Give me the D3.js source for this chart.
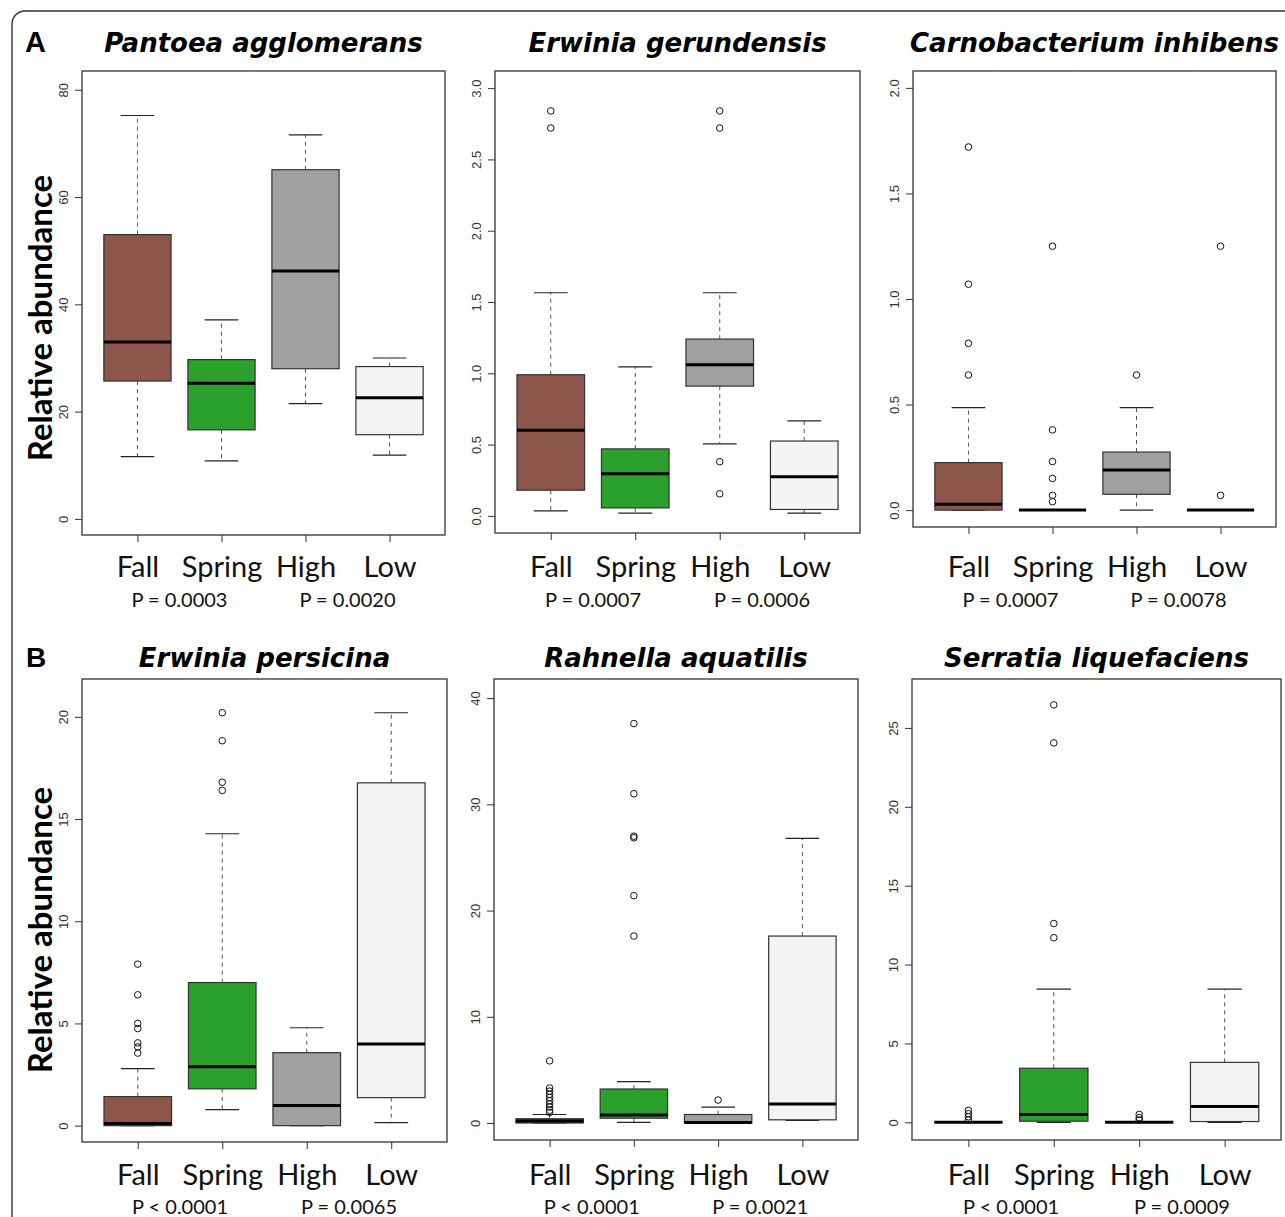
<!DOCTYPE html>
<html>
<head>
<meta charset="utf-8">
<script src="https://cdn.jsdelivr.net/npm/d3@7.9.0/dist/d3.min.js"></script>
<style>
  body { margin: 0; background: #fff; }
</style>
</head>
<body>
<svg id="chart" width="1285" height="1217"></svg>
<script>
const groups = ['Fall', 'Spring', 'High', 'Low'];
const fills = ['#8c564b', '#2ca02c', '#a0a0a0', '#f4f4f4'];

const titles = ['Pantoea agglomerans', 'Erwinia gerundensis', 'Carnobacterium inhibens',
  'Erwinia persicina', 'Rahnella aquatilis', 'Serratia liquefaciens'];
const seasonP = ['P = 0.0003', 'P = 0.0007', 'P = 0.0007', 'P < 0.0001', 'P < 0.0001', 'P < 0.0001'];
const levelP = ['P = 0.0020', 'P = 0.0006', 'P = 0.0078', 'P = 0.0065', 'P = 0.0021', 'P = 0.0009'];

const yTicks = [
  [0, 20, 40, 60, 80],
  [0, 0.5, 1, 1.5, 2, 2.5, 3],
  [0, 0.5, 1, 1.5, 2],
  [0, 5, 10, 15, 20],
  [0, 10, 20, 30, 40],
  [0, 5, 10, 15, 20, 25]
];
const yLimits = [[-3.0, 83.5], [-0.12, 3.12], [-0.08, 2.08], [-0.8, 21.85], [-1.6, 41.8], [-1.12, 28.1]];

// [lower whisker, Q1, median, Q3, upper whisker] for Fall, Spring, High, Low
const pantoeaStats = [[11.6, 25.7, 33.0, 53.0, 75.2], [10.8, 16.6, 25.3, 29.7, 37.1], [21.5, 28.0, 46.2, 65.1, 71.6], [11.9, 15.7, 22.6, 28.4, 30.0]];
const pantoeaOut = [[], [], [], []];

const gerundensisStats = [[0.035, 0.18, 0.60, 0.99, 1.565], [0.02, 0.056, 0.295, 0.47, 1.045], [0.505, 0.91, 1.06, 1.24, 1.565], [0.02, 0.045, 0.275, 0.525, 0.667]];
const gerundensisOut = [[2.84, 2.72], [], [2.84, 2.72, 0.38, 0.155], []];

const carnoStats = [[0, 0, 0.028, 0.225, 0.485], [0, 0, 0, 0, 0], [0, 0.075, 0.19, 0.275, 0.485], [0, 0, 0, 0, 0]];
const carnoOut = [[1.72, 1.07, 0.79, 0.64], [1.25, 0.38, 0.23, 0.15, 0.07, 0.04], [0.64], [1.25, 0.07]];

const persicinaStats = [[0, 0, 0.1, 1.42, 2.79], [0.78, 1.8, 2.88, 7.0, 14.28], [0, 0, 0.98, 3.57, 4.79], [0.15, 1.37, 4.0, 16.77, 20.2]];
const persicinaOut = [[7.9, 6.4, 5.0, 4.75, 4.05, 3.85, 3.55], [20.2, 18.83, 16.8, 16.4], [], []];

const rahnellaStats = [[0, 0, 0.2, 0.4, 0.8], [0.05, 0.45, 0.75, 3.2, 3.9], [0, 0, 0.05, 0.8, 1.5], [0.25, 0.3, 1.8, 17.6, 26.8]];
const rahnellaOut = [[5.85, 3.3, 3.0, 2.7, 2.4, 2.1, 1.8, 1.5, 1.2, 1.0], [37.6, 31.0, 27.0, 26.85, 21.4, 17.6], [2.16], []];

const serratiaStats = [[0, 0, 0, 0, 0], [0, 0.07, 0.5, 3.43, 8.44], [0, 0, 0, 0, 0], [0, 0.05, 1.0, 3.8, 8.44]];
const serratiaOut = [[0.76, 0.55, 0.35, 0.15], [26.46, 24.05, 12.6, 11.7], [0.5, 0.3, 0.15], []];

const allStats = [pantoeaStats, gerundensisStats, carnoStats, persicinaStats, rahnellaStats, serratiaStats];
const allOut = [pantoeaOut, gerundensisOut, carnoOut, persicinaOut, rahnellaOut, serratiaOut];

// plot regions of the six panels
const frames = [
  { x0: 82, x1: 445, y0: 71, y1: 535 },
  { x0: 495, x1: 860, y0: 71, y1: 533 },
  { x0: 913, x1: 1276, y0: 71, y1: 527 },
  { x0: 82, x1: 447, y0: 679, y1: 1142 },
  { x0: 494, x1: 858, y0: 679, y1: 1140 },
  { x0: 912, x1: 1281, y0: 679, y1: 1140 }
];

const svg = d3.select('#chart');

// outer rounded frame (runs off the right and bottom edges)
svg.append('path')
  .attr('d', 'M12,1217 L12,24 A13,13 0 0 1 25,11 L1285,11')
  .attr('fill', 'none')
  .attr('stroke', '#333')
  .attr('stroke-width', 1.4);

svg.append('text').attr('x', 25).attr('y', 52).text('A')
  .attr('font-family', 'Liberation Sans, Arial').attr('font-weight', 'bold').attr('font-size', 29);
svg.append('text').attr('x', 26).attr('y', 667).text('B')
  .attr('font-family', 'Liberation Sans, Arial').attr('font-weight', 'bold').attr('font-size', 28);

[318, 930].forEach((cy) => {
  svg.append('text')
    .attr('transform', `translate(52,${cy}) rotate(-90)`)
    .attr('text-anchor', 'middle')
    .attr('font-family', 'Lato')
    .attr('font-weight', 'bold')
    .attr('font-size', 33)
    .text('Relative abundance');
});

frames.forEach((f, p) => {
  const g = svg.append('g');
  const x = d3.scaleLinear().domain([0.34, 4.66]).range([f.x0, f.x1]);
  const y = d3.scaleLinear().domain(yLimits[p]).range([f.y1, f.y0]);
  const fmt = p === 1 || p === 2 ? d3.format('.1f') : d3.format('d');

  // y axis: ticks pointing out of the box, labels parallel to the axis
  const yAxis = g.append('g')
    .attr('transform', `translate(${f.x0},0)`)
    .call(d3.axisLeft(y).tickValues(yTicks[p]).tickFormat(fmt).tickSize(7).tickPadding(0));
  yAxis.select('.domain').remove();
  yAxis.selectAll('line').attr('stroke', '#333');
  yAxis.selectAll('text')
    .attr('transform', 'rotate(-90)')
    .attr('x', 0)
    .attr('y', -14)
    .attr('dy', 0)
    .attr('text-anchor', 'middle')
    .attr('font-family', 'Liberation Sans, Arial')
    .attr('font-size', 13)
    .attr('fill', '#333');

  // x axis
  const xAxis = g.append('g')
    .attr('transform', `translate(0,${f.y1})`)
    .call(d3.axisBottom(x).tickValues([1, 2, 3, 4]).tickFormat((d) => groups[d - 1]).tickSize(7).tickPadding(12));
  xAxis.select('.domain').remove();
  xAxis.selectAll('line').attr('stroke', '#333');
  xAxis.selectAll('text')
    .attr('font-family', 'Lato')
    .attr('font-size', 29)
    .attr('fill', '#111')
    .attr('transform', `translate(0,${577 - 21 - f.y1 - 7 - 12 + (p > 2 ? 608 : 0)})`);

  const bw = x(1.4) - x(1);
  const sw = x(1.2) - x(1);

  allStats[p].forEach((s, i) => {
    const cx = x(i + 1);
    const [lo, q1, med, q3, hi] = s;
    const bg = g.append('g');
    bg.append('line').attr('x1', cx).attr('x2', cx).attr('y1', y(q3)).attr('y2', y(hi))
      .attr('stroke', '#555').attr('stroke-dasharray', '4,4');
    bg.append('line').attr('x1', cx).attr('x2', cx).attr('y1', y(q1)).attr('y2', y(lo))
      .attr('stroke', '#555').attr('stroke-dasharray', '4,4');
    [lo, hi].forEach((v) => {
      bg.append('line').attr('x1', cx - sw).attr('x2', cx + sw).attr('y1', y(v)).attr('y2', y(v))
        .attr('stroke', '#222').attr('stroke-width', 1.2);
    });
    bg.append('rect')
      .attr('x', cx - bw).attr('width', 2 * bw)
      .attr('y', y(q3)).attr('height', Math.max(0, y(q1) - y(q3)))
      .attr('fill', fills[i]).attr('stroke', '#333').attr('stroke-width', 1.2);
    bg.append('line').attr('x1', cx - bw).attr('x2', cx + bw).attr('y1', y(med)).attr('y2', y(med))
      .attr('stroke', '#000').attr('stroke-width', 3);
    allOut[p][i].forEach((v) => {
      bg.append('circle').attr('cx', cx).attr('cy', y(v)).attr('r', 3.3)
        .attr('fill', 'none').attr('stroke', '#111').attr('stroke-width', 1);
    });
  });

  // plot box
  g.append('rect')
    .attr('x', f.x0).attr('y', f.y0)
    .attr('width', f.x1 - f.x0).attr('height', f.y1 - f.y0)
    .attr('fill', 'none').attr('stroke', '#333').attr('stroke-width', 1.3);

  // title
  const row = p > 2 ? 1 : 0;
  g.append('text')
    .attr('x', (f.x0 + f.x1) / 2)
    .attr('y', row ? 667 : 52)
    .attr('text-anchor', 'middle')
    .attr('font-family', 'DejaVu Sans')
    .attr('font-weight', 'bold')
    .attr('font-style', 'italic')
    .attr('font-size', 26)
    .text(titles[p]);

  // p-values under the group pairs
  const py = row ? 1214 : 607;
  [[1.5, seasonP[p]], [3.5, levelP[p]]].forEach(([pos, txt]) => {
    g.append('text')
      .attr('x', x(pos)).attr('y', py)
      .attr('text-anchor', 'middle')
      .attr('font-family', 'Lato')
      .attr('font-size', 20)
      .attr('fill', '#111')
      .text(txt);
  });
});
</script>
</body>
</html>
